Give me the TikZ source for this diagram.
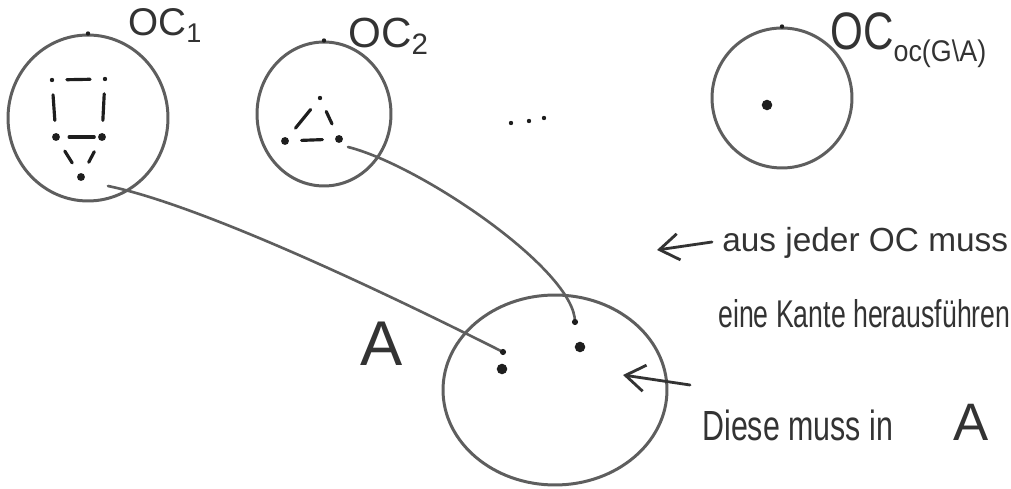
\documentclass[tikz,border=0pt]{standalone}
\usepackage{fontspec}
\setmainfont{Liberation Sans}
\usetikzlibrary{shapes.geometric,arrows.meta}
\definecolor{pen}{HTML}{5E5E5E}
\definecolor{ink}{HTML}{1E1E1E}
\definecolor{txt}{HTML}{333333}
\begin{document}
\begin{tikzpicture}[x=0.02cm,y=-0.02cm,
  blob/.style={ellipse,draw=pen,line width=1.7pt,inner sep=0pt},
  vert/.style={circle,fill=ink,inner sep=0pt,minimum size=4.5pt},
  pin/.style={circle,fill=ink,inner sep=0pt,minimum size=2.5pt},
  gedge/.style={draw=ink,line width=1.8pt,line cap=round,shorten <=7pt,shorten >=7pt},
  conn/.style={draw=pen,line width=1.5pt,line cap=round},
  lab/.style={text=txt,inner sep=0pt},
  note/.style={text=txt,inner sep=0pt,anchor=base west,font=\fontsize{19}{22}\selectfont},
  annarrow/.style={draw=txt,line width=1.6pt,line cap=round,-{Straight Barb[length=11pt,width=15pt,line width=1.6pt]}}
]
\useasboundingbox (0,0) rectangle (1011,489);
\fill[white] (0,0) rectangle (1011,489);

% components
\node[blob,minimum width=3.2cm,minimum height=3.32cm] (oc1) at (88,118) {};
\node[blob,minimum width=2.68cm,minimum height=2.88cm] (oc2) at (324,114) {};
\node[blob,minimum width=2.8cm,minimum height=2.8cm] (oc3) at (782,98) {};
\node[blob,minimum width=4.48cm,minimum height=3.8cm] (A) at (555,390) {};

\node[pin] at (oc1.north) {};
\node[pin] at (oc2.north) {};
\node[pin] at (oc3.north) {};

% labels
\node[lab,font=\fontsize{22}{24}\selectfont,anchor=base west] (l1) at (128,36) {OC\textsubscript{1}};
\node[lab,font=\fontsize{24}{26}\selectfont,anchor=base west] (l2) at (348,48) {OC\textsubscript{2}};
\node[lab,font=\fontsize{30}{32}\selectfont,anchor=base west] (l3) at (830,50) {\scalebox{0.8}[1]{OC}\raisebox{-0.4ex}{\fontsize{17}{18}\selectfont\scalebox{0.9}[1]{oc(G\textbackslash A)}}};
\node[lab,font=\fontsize{36}{38}\selectfont,anchor=base west] (la) at (360,366) {A};

% graph in OC1
\node[vert,minimum size=2.5pt] (a1) at (52,80) {};
\node[vert,minimum size=2.5pt] (a2) at (105,79) {};
\node[vert] (a3) at (56,137) {};
\node[vert] (a4) at (102,137) {};
\node[vert] (a5) at (81,177) {};
\draw[gedge] (a1) -- (a2);
\draw[gedge] (a1) -- (a3);
\draw[gedge] (a2) -- (a4);
\draw[gedge,shorten <=5pt,shorten >=2pt] (a3) -- (a4);
\draw[gedge] (a3) -- (a5);
\draw[gedge] (a4) -- (a5);

% graph in OC2
\node[vert,minimum size=2.5pt] (b1) at (320,98) {};
\node[vert] (b2) at (285,141) {};
\node[vert] (b3) at (339,139) {};
\draw[gedge] (b1) -- (b2);
\draw[gedge] (b1) -- (b3);
\draw[gedge] (b2) -- (b3);

% single vertex in OC3
\node[vert,minimum size=6pt] (c1) at (767,105) {};

% dots
\node[vert,minimum size=2.5pt] (d1) at (511,123) {};
\node[vert,minimum size=2.5pt] (d2) at (529,121) {};
\node[vert,minimum size=2.5pt] (d3) at (544,118) {};

% vertices in A
\node[vert,minimum size=6pt] (p1) at (502,369) {};
\node[vert,minimum size=6pt] (p2) at (580,347) {};

% connectors
\coordinate (e1s) at (108,186);
\coordinate (e1t) at (503,352);
\coordinate (e2s) at (348,147);
\coordinate (e2t) at (575,322);
\draw[conn] (e1s) .. controls (200,205) and (380,290) .. (e1t);
\draw[conn] (e2s) .. controls (420,165) and (575,270) .. (e2t);
\node[pin,minimum size=3.5pt] at (e1t) {};
\node[pin,minimum size=3.5pt] at (e2t) {};

% annotations
\coordinate (t1a) at (712,242);
\coordinate (t1b) at (657,250);
\draw[annarrow] (t1a) -- (t1b);
\coordinate (t2a) at (690,385);
\coordinate (t2b) at (623,375);
\draw[annarrow] (t2a) -- (t2b);

\node[note] (n1) at (722,252) {aus jeder OC muss};
\node[note,font=\fontsize{22}{24}\selectfont] (n2) at (718,328) {\scalebox{0.69}[1]{eine Kante herausführen}};
\node[note,font=\fontsize{24}{26}\selectfont] (n3) at (702,440) {\scalebox{0.72}[1]{Diese muss in}};
\node[note,font=\fontsize{30}{32}\selectfont] (n4) at (953,440) {A};
\end{tikzpicture}
\end{document}
